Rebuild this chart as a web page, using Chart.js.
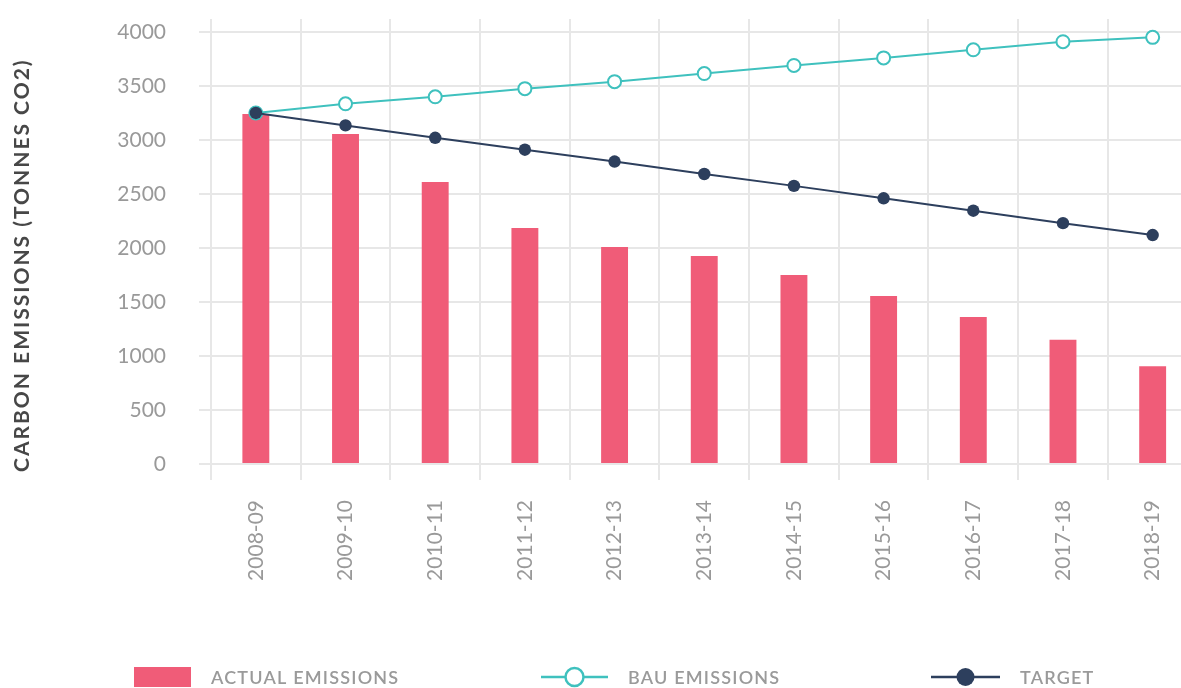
<!DOCTYPE html>
<html>
<head>
<meta charset="utf-8">
<script src="https://cdn.jsdelivr.net/npm/chart.js@4.4.1/dist/chart.umd.min.js"></script>
<style>
  html, body { margin: 0; padding: 0; background: #ffffff; width: 1181px; height: 688px; overflow: hidden; }
  #wrap { position: relative; width: 1206px; height: 688px; }
</style>
</head>
<body>
<div id="wrap"><canvas id="chart"></canvas></div>
<script>
// ---- data ----
const categories = ['2008-09', '2009-10', '2010-11', '2011-12', '2012-13', '2013-14', '2014-15', '2015-16', '2016-17', '2017-18', '2018-19'];
const actualEmissions = [3240, 3055, 2610, 2185, 2010, 1925, 1750, 1555, 1360, 1150, 905];
const bauEmissions = [3250, 3335, 3400, 3475, 3540, 3615, 3690, 3760, 3835, 3910, 3950];
const targetEmissions = [3250, 3135, 3020, 2910, 2800, 2685, 2575, 2460, 2345, 2230, 2120];
const yTickValues = [0, 500, 1000, 1500, 2000, 2500, 3000, 3500, 4000];
const seriesLabels = ['ACTUAL EMISSIONS', 'BAU EMISSIONS', 'TARGET'];
const yAxisTitle = 'CARBON EMISSIONS (TONNES CO2)';

// ---- styles ----
const COLORS = { bar: '#F05C78', bau: '#3FC1BE', target: '#2D3F5D', grid: '#E7E7E7', tick: '#999999', title: '#474747', legendText: '#9A9A9A' };

// legend layout (positions of the three legend entries)
const legendLayout = { y: 677, starts: [134, 541, 931], symbolWidths: [57, 67, 69], gap: 20 };

const customLegend = {
  id: 'customLegend',
  afterDraw(chart) {
    const ctx = chart.ctx;
    chart.data.datasets.forEach((ds, i) => {
      const x0 = legendLayout.starts[i];
      const w = legendLayout.symbolWidths[i];
      const y = legendLayout.y;
      ctx.save();
      if (ds.type === 'bar') {
        ctx.fillStyle = ds.backgroundColor;
        ctx.fillRect(x0, y - 10, w, 20);
      } else {
        ctx.strokeStyle = ds.borderColor;
        ctx.lineWidth = 2.5;
        ctx.beginPath();
        ctx.moveTo(x0, y);
        ctx.lineTo(x0 + w, y);
        ctx.stroke();
        ctx.beginPath();
        ctx.arc(x0 + w / 2, y, 9, 0, Math.PI * 2);
        ctx.fillStyle = ds.pointBackgroundColor;
        ctx.fill();
        if (ds.pointBorderWidth > 0) {
          ctx.lineWidth = 2.5;
          ctx.strokeStyle = ds.pointBorderColor;
          ctx.stroke();
        }
      }
      ctx.font = '600 18px Lato';
      ctx.letterSpacing = '1.2px';
      ctx.fillStyle = COLORS.legendText;
      ctx.textAlign = 'left';
      ctx.textBaseline = 'middle';
      ctx.fillText(ds.label, x0 + w + legendLayout.gap, y + 1);
      ctx.restore();
    });
  }
};

const titleSpacing = {
  id: 'titleSpacing',
  beforeDraw(chart) {
    const s = chart.scales.y;
    if (s && !s.__wrapped) {
      const orig = s.drawTitle;
      s.drawTitle = function () {
        const c = this.ctx;
        c.save();
        c.letterSpacing = '2px';
        c.translate(0, 8);
        orig.call(this);
        c.restore();
      };
      s.__wrapped = true;
    }
  }
};

function draw() {
  new Chart(document.getElementById('chart'), {
    type: 'bar',
    data: {
      labels: categories,
      datasets: [
        {
          type: 'bar',
          label: seriesLabels[0],
          data: actualEmissions,
          backgroundColor: COLORS.bar,
          barPercentage: 0.3,
          categoryPercentage: 1,
          order: 3
        },
        {
          type: 'line',
          label: seriesLabels[1],
          data: bauEmissions,
          borderColor: COLORS.bau,
          borderWidth: 2,
          pointRadius: 6.5,
          pointBorderWidth: 2,
          pointBackgroundColor: '#ffffff',
          pointBorderColor: COLORS.bau,
          tension: 0,
          order: 2
        },
        {
          type: 'line',
          label: seriesLabels[2],
          data: targetEmissions,
          borderColor: COLORS.target,
          borderWidth: 2,
          pointRadius: 6.2,
          pointBorderWidth: 0,
          pointBackgroundColor: COLORS.target,
          pointBorderColor: COLORS.target,
          tension: 0,
          order: 1
        }
      ]
    },
    options: {
      responsive: true,
      maintainAspectRatio: false,
      animation: false,
      layout: { padding: { top: 19, right: 3, bottom: 104, left: 0 } },
      plugins: { legend: { display: false }, tooltip: { enabled: false } },
      scales: {
        x: {
          offset: true,
          grid: { offset: true, color: COLORS.grid, lineWidth: 2, tickLength: 16, drawTicks: true },
          border: { display: false },
          ticks: {
            color: COLORS.tick,
            font: { family: 'Lato', size: 21 },
            minRotation: 90,
            maxRotation: 90,
            autoSkip: false,
            padding: 20
          },
          afterFit(scale) { scale.height = 120; scale.paddingLeft = 0; scale.paddingRight = 0; }
        },
        y: {
          min: 0,
          max: 4120,
          grid: { color: COLORS.grid, lineWidth: 2, tickLength: 12 },
          border: { display: false },
          ticks: {
            color: COLORS.tick,
            font: { family: 'Lato', size: 21 },
            padding: 33,
            callback: (v) => String(v)
          },
          afterBuildTicks(scale) { scale.ticks = yTickValues.map(v => ({ value: v })); },
          afterFit(scale) { scale.width = 211; scale.paddingTop = 0; scale.paddingBottom = 0; },
          title: {
            display: true,
            text: yAxisTitle,
            color: COLORS.title,
            align: 'start',
            font: { family: 'Lato', size: 21, weight: 'bold' },
            padding: { top: 9.4, bottom: 0 }
          }
        }
      }
    },
    plugins: [customLegend, titleSpacing]
  });
}

const fontLoads = ['400 21px Lato', '700 21px Lato', '600 18px Lato'].map(f => document.fonts.load(f));
Promise.all(fontLoads).then(draw, draw);
</script>
</body>
</html>
